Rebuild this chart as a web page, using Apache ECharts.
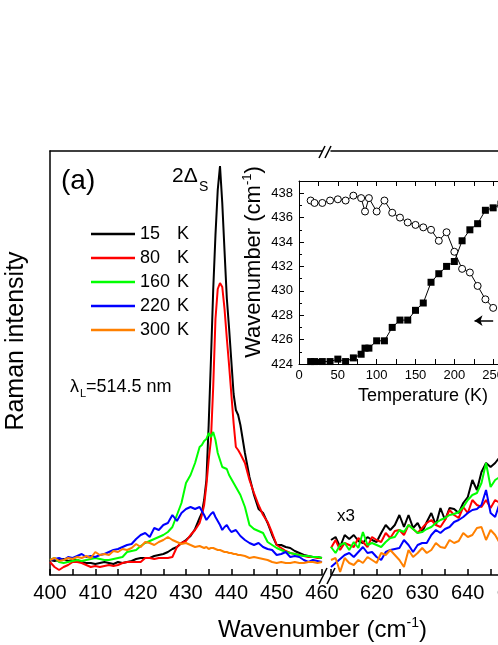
<!DOCTYPE html>
<html><head><meta charset="utf-8">
<script src="https://cdn.jsdelivr.net/npm/echarts@6/dist/echarts.min.js"></script>
<style>html,body{margin:0;padding:0;background:#fff;overflow:hidden;width:498px;height:645px}
#wrap{width:498px;height:645px;overflow:hidden;position:relative}
#c{width:600px;height:645px;position:absolute;left:0;top:0}</style>
</head><body><div id="wrap"><div id="c"></div></div>
<script>
// ---- Main spectra, left segment (400-460 cm-1) ----
const wnLeft = [400,401,402,403,404,405,406,407,408,409,410,411,412,413,414,415,416,417,418,419,420,421,422,423,424,425,426,427,428,429,430,431,432,433,
  433.5,434,434.5,435,435.5,436,436.5,437,437.5,438,438.5,439,439.5,440,440.5,441,441.5,442,
  443,444,445,446,447,448,449,450,451,452,453,454,455,456,457,458,459,460];
const i15L = [15,14,15,16,14,15,15,13,12,12,11,12,13,12,11,13,12,13,14,16,17,17,17,19,20,21,23,26,28,32,35,39,46,57,
  62,75,95,150,215,285,340,385,409,372,324,277,247,214,181,165,160,150,
  122,98,80,66,62,52,40,30,30,28,27,24,22,20,19,18,18,17];
const i80L = [13,8,5,8,10,13,13,12,10,8,9,8,9,10,9,10,12,13,13,13,13,17,17,16,17,17,17,18,28,32,34,40,45,52,
  60,70,90,115,135,188,256,286,292,288,266,237,210,181,152,128,125,121,
  112,95,82,70,60,53,42,30,27,24,22,21,20,19,18,18,17,17];
const i160L = [15,17,13,12,13,14,15,14,15,16,17,16,15,15,16,17,18,23,24,25,29,32,34,36,38,40,43,48,60,72,92,100,112,128,
  130,134,136,142,138,143,135,122,115,108,107,106,100,96,92,88,84,80,
  68,50,46,44,42,33,30,27,25,23,22,21,20,19,19,18,18,17];
const i220L = [15,16,17,15,18,17,19,21,18,19,18,20,21,23,25,26,28,30,31,36,40,42,38,47,45,50,52,60,54,62,66,68,66,68,
  64,60,55,58,61,63,58,54,50,45,48,50,46,43,44,45,42,39,
  35,32,30,32,28,26,25,20,21,23,18,19,18,15,13,15,14,13];
const i300L = [15,17,14,15,17,16,18,17,19,17,23,20,21,20,24,23,26,25,27,31,28,33,32,30,33,35,38,35,33,31,32,30,28,29,
  28,27,28,26,27,27,26,25,25,24,23,23,22,22,21,21,20,20,
  19,17,18,17,16,15,13,12,13,12,12,13,12,12,13,13,12,13];
// ---- Main spectra, right segment (x3) ----
const wnRight = [610,611,612,613,614,615,616,617,618,619,620,621,622,623,624,625,626,627,628,629,630,631,632,633,634,635,636,637,638,639,640,641,642,643,644,645,646,647,648];
const i15R = [35,38,28,40,36,40,34,32,38,35,33,42,50,45,50,60,48,60,47,52,43,53,62,50,67,55,67,66,62,72,78,95,85,103,112,108,112,118,115];
const i80R = [27,35,25,32,30,28,37,33,28,38,35,33,42,37,44,45,40,50,46,42,47,52,55,50,48,55,65,60,57,68,62,75,70,68,75,67,75,72,74];
const i160R = [28,22,30,32,25,33,27,43,30,32,30,28,33,37,38,45,43,50,46,42,43,46,48,52,55,57,60,61,63,68,75,80,82,92,112,88,95,98,96];
const i220R = [8,12,16,20,22,18,23,28,22,23,18,15,23,25,26,27,35,30,23,30,32,32,40,45,42,46,48,53,55,58,62,65,66,70,85,62,58,72,70];
const i300R = [15,17,3,17,12,10,15,12,18,15,12,22,20,25,20,15,8,25,18,22,27,22,25,32,28,27,35,32,34,42,38,40,47,48,35,45,40,32,36];
// ---- Inset: peak position vs temperature ----
const temps = [15,20,30,40,50,60,70,80,85,90,100,110,120,130,140,150,160,170,180,190,200,210,220,230,240,250,260];
const peakSquares = [424.2,424.2,424.2,424.2,424.4,424.2,424.5,424.8,425.3,425.3,425.9,425.9,427.0,427.6,427.6,428.4,429.0,430.7,431.4,432.0,432.4,434.1,435.0,435.5,436.6,436.8,437.1];
const peakCircles = [437.4,437.2,437.2,437.4,437.5,437.4,437.8,437.6,436.5,437.6,436.5,437.4,436.4,436.0,435.6,435.4,435.2,435.0,434.1,434.8,433.2,431.8,431.5,430.4,429.3,428.6,null];
// ---- labels ----
const tempNames = ['15','80','160','220','300'];
const colors = ['#000000','#ff0000','#00ff00','#0000ff','#ff8000'];

const FONT = '"Liberation Sans", Arial, sans-serif';
const chart = echarts.init(document.getElementById('c'));
const leftData = [i15L,i80L,i160L,i220L,i300L];
const rightData = [i15R,i80R,i160R,i220R,i300R];
const series = [];
tempNames.forEach((n,k)=>{
  series.push({type:'line', name:n, xAxisIndex:0, yAxisIndex:0, symbol:'none',
    data: wnLeft.map((w,i)=>[w,leftData[k][i]]),
    lineStyle:{color:colors[k],width:2}, itemStyle:{color:colors[k]}});
  series.push({type:'line', name:n, xAxisIndex:1, yAxisIndex:1, symbol:'none',
    data: wnRight.map((w,i)=>[w,rightData[k][i]]),
    lineStyle:{color:colors[k],width:2}, itemStyle:{color:colors[k]}});
});
series.push({type:'line', xAxisIndex:4, yAxisIndex:2, symbol:'rect', symbolSize:7, showAllSymbol:true,
  data: temps.map((t,i)=>[t,peakSquares[i]]), lineStyle:{color:'#000',width:1}, itemStyle:{color:'#000'}});
series.push({type:'line', xAxisIndex:4, yAxisIndex:2, symbol:'circle', symbolSize:7, showAllSymbol:true,
  data: temps.map((t,i)=>[t,peakCircles[i]]), lineStyle:{color:'#000',width:1},
  itemStyle:{color:'#fff',borderColor:'#000',borderWidth:1},
  markLine:{silent:true, symbol:['none','arrow'], symbolSize:8, label:{show:false},
    lineStyle:{color:'#000',width:1.5,type:'solid'},
    data:[[{coord:[250,427.55]},{coord:[226,427.55]}]]}});

const mainAxisLine = {show:true, lineStyle:{color:'#000', width:1.5}};
const mainTick = {show:true, inside:true, length:6, lineStyle:{color:'#000', width:1.5}};
const mainMinor = {show:true, splitNumber:2, length:6, lineStyle:{color:'#000', width:1.5}};
const mainLabel = {fontFamily:FONT, fontSize:20, color:'#000', margin:8};
const insetLine = {show:true, lineStyle:{color:'#000', width:1}};
const insetTick = {show:true, inside:true, length:5, lineStyle:{color:'#000', width:1}};

chart.setOption({
  animation:false,
  backgroundColor:'#fff',
  grid:[
    {left:50, top:151, width:272, height:424},
    {left:331, top:151, width:228, height:424},
    {left:299, top:181, width:233, height:183}
  ],
  xAxis:[
    {gridIndex:0, type:'value', min:400, max:460, interval:10, axisLine:mainAxisLine, axisTick:mainTick, minorTick:mainMinor, axisLabel:mainLabel, splitLine:{show:false}},
    {gridIndex:1, type:'value', min:610, max:660, interval:10, axisLine:mainAxisLine, axisTick:mainTick, minorTick:mainMinor,
      axisLabel:Object.assign({}, mainLabel, {formatter:v=> v===610?'':String(v)}), splitLine:{show:false}},
    {gridIndex:0, type:'value', position:'top', min:400, max:460, axisLine:mainAxisLine, axisTick:{show:false}, axisLabel:{show:false}, splitLine:{show:false}},
    {gridIndex:1, type:'value', position:'top', min:610, max:660, axisLine:mainAxisLine, axisTick:{show:false}, axisLabel:{show:false}, splitLine:{show:false}},
    {gridIndex:2, type:'value', min:0, max:300, interval:50, axisLine:insetLine, axisTick:insetTick,
      minorTick:{show:true, splitNumber:2, length:5, lineStyle:{color:'#000'}},
      axisLabel:{fontFamily:FONT, fontSize:13, color:'#000', margin:5}, splitLine:{show:false}},
    {gridIndex:2, type:'value', position:'top', min:0, max:300, interval:50, axisLine:insetLine, axisTick:insetTick,
      minorTick:{show:true, splitNumber:2, length:5, lineStyle:{color:'#000'}}, axisLabel:{show:false}, splitLine:{show:false}}
  ],
  yAxis:[
    {gridIndex:0, type:'value', min:0, max:424, axisLine:mainAxisLine, axisTick:{show:false}, axisLabel:{show:false}, splitLine:{show:false}},
    {gridIndex:1, type:'value', min:0, max:424, show:false},
    {gridIndex:2, type:'value', min:424, max:439, interval:2, axisLine:insetLine, axisTick:insetTick,
      minorTick:{show:true, splitNumber:2, length:3, lineStyle:{color:'#000'}},
      axisLabel:{fontFamily:FONT, fontSize:13, color:'#000', margin:6}, splitLine:{show:false}}
  ],
  legend:{data:tempNames.map(n=>({name:n, icon:'rect'})), orient:'vertical', left:86, top:220, itemWidth:44, itemHeight:2.5, itemGap:6,
    formatter:n=>'{n|'+n+'}{k|K}',
    textStyle:{fontFamily:FONT, fontSize:18, color:'#000', lineHeight:14,
      rich:{n:{width:37, fontFamily:FONT, fontSize:18, color:'#000', lineHeight:14}, k:{fontFamily:FONT, fontSize:18, color:'#000', lineHeight:14}}}},
  graphic:[
    {type:'text', x:61, y:181, style:{text:'(a)', fontFamily:FONT, fontSize:28, fill:'#000', verticalAlign:'middle'}},
    {type:'text', x:172, y:176, style:{text:'2Δ', fontFamily:FONT, fontSize:21, fill:'#000', verticalAlign:'middle'}},
    {type:'text', x:199, y:187, style:{text:'S', fontFamily:FONT, fontSize:14, fill:'#000', verticalAlign:'middle'}},
    {type:'text', x:70, y:387, style:{text:'λ', fontFamily:FONT, fontSize:18, fill:'#000', verticalAlign:'middle'}},
    {type:'text', x:80, y:394, style:{text:'L', fontFamily:FONT, fontSize:11, fill:'#000', verticalAlign:'middle'}},
    {type:'text', x:86, y:387, style:{text:'=514.5 nm', fontFamily:FONT, fontSize:18, fill:'#000', verticalAlign:'middle'}},
    {type:'text', x:337, y:516, style:{text:'x3', fontFamily:FONT, fontSize:17, fill:'#000', verticalAlign:'middle'}},
    {type:'text', x:16, y:341, rotation:Math.PI/2, style:{text:'Raman intensity', fontFamily:FONT, fontSize:25, fill:'#000', align:'center', verticalAlign:'middle'}},
    {type:'text', x:218, y:630, style:{text:'{a|Wavenumber (cm}{s|-1}{a|)}', verticalAlign:'middle',
      rich:{a:{fontFamily:FONT, fontSize:24, fill:'#000', lineHeight:28}, s:{fontFamily:FONT, fontSize:14, fill:'#000', lineHeight:14, verticalAlign:'top'}}}},
    {type:'text', x:358, y:396, style:{text:'Temperature (K)', fontFamily:FONT, fontSize:18, fill:'#000', verticalAlign:'middle'}},
    {type:'text', x:254, y:262, rotation:Math.PI/2, style:{text:'{a|Wavenumber (cm}{s|-1}{a|)}', align:'center', verticalAlign:'middle',
      rich:{a:{fontFamily:FONT, fontSize:22, fill:'#000', lineHeight:26}, s:{fontFamily:FONT, fontSize:13, fill:'#000', lineHeight:13, verticalAlign:'top'}}}},
    {type:'line', shape:{x1:319,y1:158,x2:325,y2:146}, style:{stroke:'#000', lineWidth:1.5}},
    {type:'line', shape:{x1:325,y1:158,x2:331,y2:146}, style:{stroke:'#000', lineWidth:1.5}},
    {type:'line', shape:{x1:319,y1:584,x2:327,y2:568}, style:{stroke:'#000', lineWidth:1.5}},
    {type:'line', shape:{x1:327,y1:584,x2:335,y2:568}, style:{stroke:'#000', lineWidth:1.5}}
  ],
  series:series
});
</script></body></html>
